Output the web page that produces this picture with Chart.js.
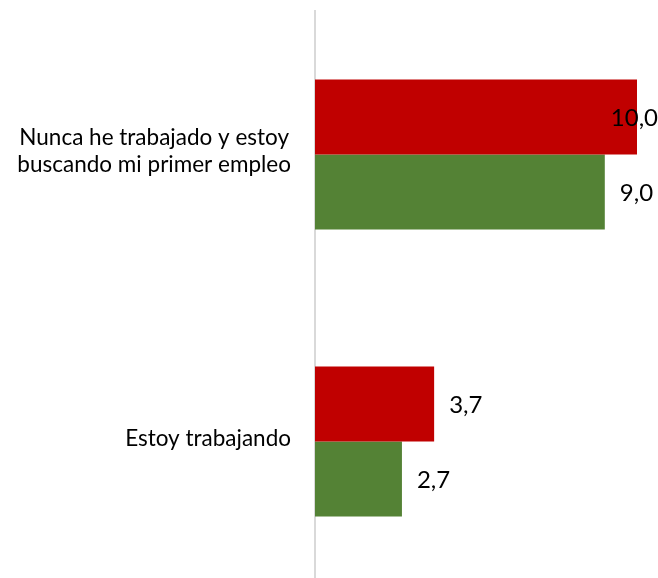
<!DOCTYPE html>
<html>
<head>
<meta charset="utf-8">
<script src="https://cdn.jsdelivr.net/npm/chart.js@4"></script>
<style>
  html, body { margin: 0; padding: 0; background: #fff; overflow: hidden; }
  #wrap { position: relative; width: 658px; height: 600px; }
</style>
</head>
<body>
<div id="wrap"><canvas id="chart" width="658" height="600"></canvas></div>
<script>
// Data
const categories = [
    ["Nunca he trabajado y estoy", "buscando mi primer empleo"],
    ["Estoy trabajando"]
];
const seriesRed = [10.0, 3.7];
const seriesGreen = [9.0, 2.7];

const RED = "#C00000";
const GREEN = "#548235";
const FONT = "Lato, 'Open Sans', sans-serif";

// Category labels: block right aligned, lines centered inside the block
const categoryLabels = {
    id: "categoryLabels",
    afterDraw(chart) {
        const c = chart.ctx;
        const y = chart.scales.y;
        c.save();
        c.font = "22.5px " + FONT;
        c.fillStyle = "#000";
        c.textBaseline = "middle";
        c.textAlign = "center";
        const right = 291, lineH = 27;
        categories.forEach((lines, i) => {
            const cy = y.getPixelForValue(i);
            const w = Math.max(...lines.map(l => c.measureText(l).width));
            const cx = right - w / 2;
            const top = cy - (lines.length - 1) * lineH / 2 - 3;
            lines.forEach((l, j) => c.fillText(l, cx, top + j * lineH));
        });
        c.restore();
    }
};

// Value labels at bar ends (comma decimals)
const valueLabels = {
    id: "valueLabels",
    afterDatasetsDraw(chart) {
        const c = chart.ctx;
        c.save();
        c.font = "24px " + FONT;
        c.fillStyle = "#000";
        c.textBaseline = "middle";
        c.textAlign = "left";
        chart.data.datasets.forEach((ds, di) => {
            chart.getDatasetMeta(di).data.forEach((bar, i) => {
                const txt = ds.data[i].toFixed(1).replace(".", ",");
                const w = c.measureText(txt).width;
                let x = bar.x + 15;
                if (x + w > chart.width) x = chart.width - w;
                c.fillText(txt, x, bar.y + 1);
            });
        });
        c.restore();
    }
};

new Chart(document.getElementById("chart"), {
    type: "bar",
    data: {
        labels: categories.map(l => l.join(" ")),
        datasets: [
            { data: seriesRed, backgroundColor: RED },
            { data: seriesGreen, backgroundColor: GREEN }
        ]
    },
    options: {
        indexAxis: "y",
        responsive: false,
        animation: false,
        layout: { padding: { top: 11, right: 21, bottom: 15, left: 0 } },
        categoryPercentage: 0.523,
        barPercentage: 1.0,
        plugins: { legend: { display: false }, tooltip: { enabled: false } },
        scales: {
            x: { min: 0, max: 10, display: false },
            y: {
                grid: { display: false, drawTicks: false },
                border: { display: true, color: "#d9d9d9", width: 2 },
                ticks: { display: false },
                afterFit(scale) { scale.width = 315; }
            }
        }
    },
    plugins: [categoryLabels, valueLabels]
});
</script>
</body>
</html>
